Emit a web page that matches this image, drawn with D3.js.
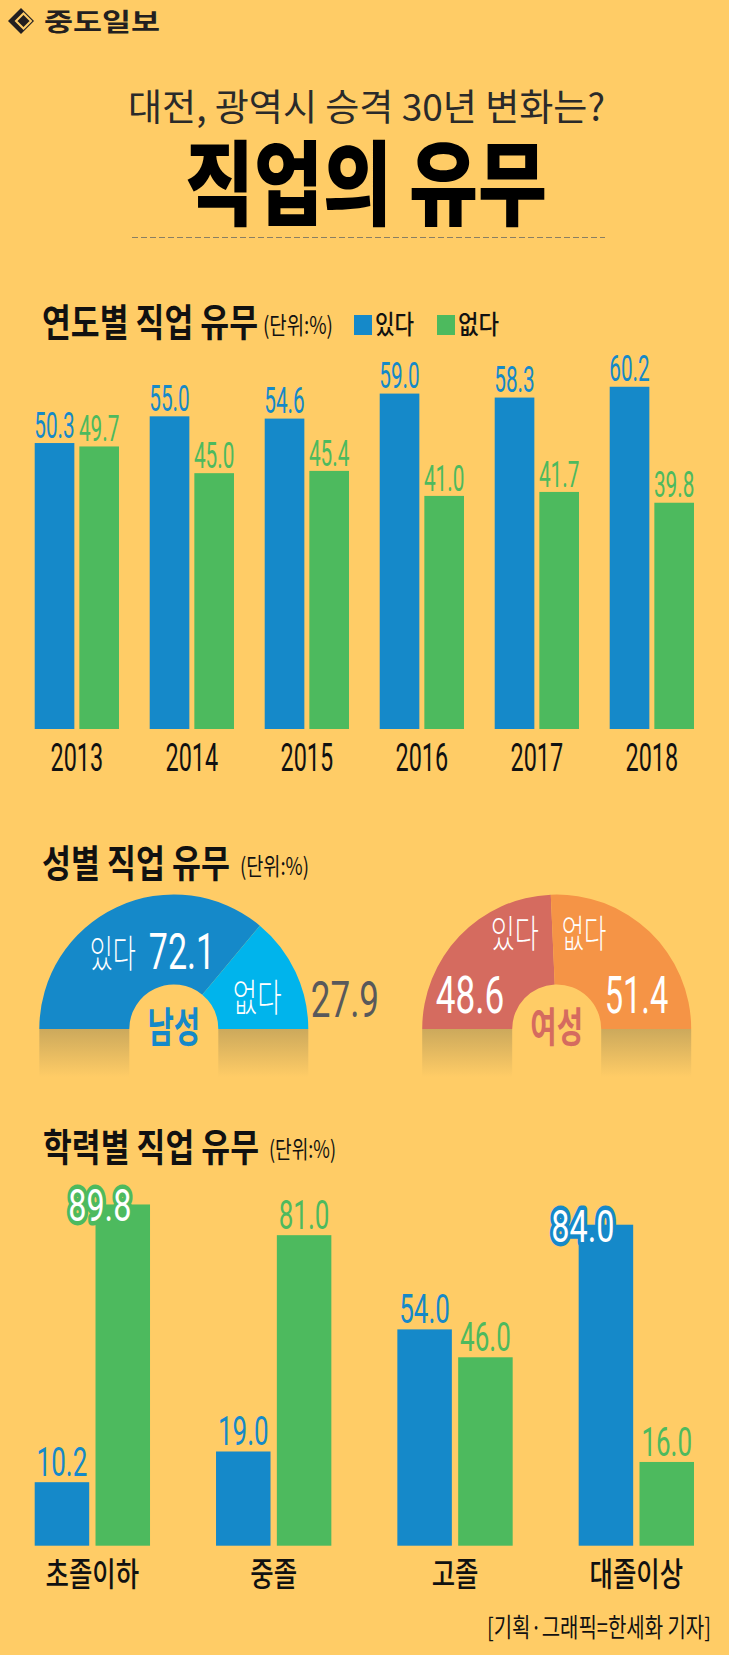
<!DOCTYPE html>
<html><head><meta charset="utf-8">
<script src="https://cdn.jsdelivr.net/npm/d3@7"></script>
<style>html,body{margin:0;padding:0;background:#ffcc66;} svg{display:block;}</style>
</head><body>
<svg id="c" width="729" height="1655"></svg>
<script>
// ---------- data ----------
const years = ['2013','2014','2015','2016','2017','2018'];
const seriesNames = ['있다','없다'];
const yearYes = [50.3, 55.0, 54.6, 59.0, 58.3, 60.2];
const yearNo  = [49.7, 45.0, 45.4, 41.0, 41.7, 39.8];
const genders = ['남성','여성'];
const maleValues = [72.1, 27.9];
const femaleValues = [48.6, 51.4];
const eduLevels = ['초졸이하','중졸','고졸','대졸이상'];
const eduYes = [10.2, 19.0, 54.0, 84.0];
const eduNo  = [89.8, 81.0, 46.0, 16.0];

// ---------- style ----------
const W = 729, H = 1655;
const BG = '#ffcc66', BLUE = '#1589c9', GREEN = '#4dba5e', LBLUE = '#00b4ec',
      ROSE = '#d56b5f', ORANGE = '#f59446', GRAY = '#58595b', INK = '#111';
const KR = "'Noto Sans CJK KR','Noto Sans',sans-serif";
const NUM = "Roboto,'Noto Sans',sans-serif";
const fmt = d3.format('.1f');

const svg = d3.select('#c');
svg.append('rect').attr('width', W).attr('height', H).attr('fill', BG);

function txt(p, s, o) {
  const t = p.append('text').text(s)
    .attr('font-family', o.family || KR)
    .attr('font-size', o.size)
    .attr('font-weight', o.weight || 400)
    .attr('fill', o.fill || INK)
    .attr('text-anchor', o.anchor || 'start');
  if (o.len) {
    t.attr('x', o.x).attr('y', o.y).attr('textLength', o.len).attr('lengthAdjust', 'spacingAndGlyphs');
  } else {
    t.attr('transform', `translate(${o.x},${o.y}) scale(${o.sx || 1},1)`);
  }
  if (o.stroke) {
    t.attr('stroke', o.stroke).attr('stroke-width', o.sw).attr('stroke-linejoin', 'round')
     .attr('paint-order', 'stroke');
  }
  return t;
}

// ---------- header ----------
const logo = svg.append('g');
logo.append('path').attr('d', 'M8,21 L21,8 L34,21 L21,34 Z').attr('fill', '#231f20');
logo.append('path').attr('d', 'M16,21 L23.5,13.5 L31,21 L23.5,28.5 Z').attr('fill', 'none')
  .attr('stroke', BG).attr('stroke-width', 2);
logo.append('path').attr('d', 'M19.5,21 L23.5,17 L27.5,21 L23.5,25 Z').attr('fill', '#231f20');
txt(svg, '중도일보', {x: 44, y: 31, size: 25, weight: 700, len: 116, fill: '#231f20'});

txt(svg, '대전, 광역시 승격 30년 변화는?', {x: 128, y: 121, size: 37, weight: 400, len: 477, fill: '#2a2a2a'});
txt(svg, '직업의 유무', {x: 185, y: 218, size: 92, weight: 900, len: 362, fill: '#000'});
svg.append('line').attr('x1', 132).attr('x2', 605).attr('y1', 237.5).attr('y2', 237.5)
  .attr('stroke', '#8a7f63').attr('stroke-width', 1.2).attr('stroke-dasharray', '6,3');

// ---------- chart 1: yearly ----------
txt(svg, '연도별 직업 유무', {x: 42, y: 336, size: 38, weight: 700, len: 216});
txt(svg, '(단위:%)', {x: 263, y: 334, size: 24, weight: 400, len: 70});

const color = d3.scaleOrdinal().domain(seriesNames).range([BLUE, GREEN]);
const legend = svg.append('g');
seriesNames.forEach((s, i) => {
  const lx = 354 + i * 83;
  legend.append('rect').attr('x', lx).attr('y', 315).attr('width', 18).attr('height', 20).attr('fill', color(s));
  txt(legend, s, {x: lx + 21, y: 334, size: 26, weight: 500, len: 39 + i * 2});
});

const x0 = d3.scaleBand().domain(years).range([19.35, 709.35]).paddingInner(0.267).paddingOuter(0.1335);
const x1 = d3.scaleBand().domain(seriesNames).range([0, x0.bandwidth()]).paddingInner(0.112);
const y1 = d3.scaleLinear().domain([0, 100]).range([729, 160.5]);
const yearRows = years.map((k, i) => ({key: k, vals: [yearYes[i], yearNo[i]]}));

const g1 = svg.append('g');
const grp1 = g1.selectAll('g.grp').data(yearRows).join('g').attr('class', 'grp')
  .attr('transform', d => `translate(${x0(d.key)},0)`);
const cells1 = d => seriesNames.map((s, j) => ({s, v: d.vals[j]}));
grp1.selectAll('rect').data(cells1).join('rect')
  .attr('x', d => x1(d.s)).attr('width', x1.bandwidth())
  .attr('y', d => y1(d.v)).attr('height', d => y1(0) - y1(d.v))
  .attr('fill', d => color(d.s));
grp1.each(function(d) {
  const gg = d3.select(this);
  cells1(d).forEach(c => {
    txt(gg, fmt(c.v), {x: x1(c.s) + x1.bandwidth() / 2, y: y1(c.v) - 5.3, size: 37, sx: 0.56,
      family: NUM, fill: color(c.s), anchor: 'middle'});
  });
});

const ax1 = svg.append('g').attr('transform', 'translate(0,729)')
  .call(d3.axisBottom(x0).tickSize(0).tickPadding(0));
ax1.select('.domain').remove();
ax1.selectAll('text').attr('dy', null).attr('y', 41.7)
  .attr('font-family', NUM).attr('font-size', 39).attr('fill', INK)
  .attr('transform', 'scale(0.6,1)');

// ---------- chart 2: gender ----------
txt(svg, '성별 직업 유무', {x: 42, y: 877, size: 38, weight: 700, len: 188});
txt(svg, '(단위:%)', {x: 240, y: 875, size: 24, weight: 400, len: 69});

const defs = svg.append('defs');
const grad = defs.append('linearGradient').attr('id', 'sh').attr('x1', 0).attr('x2', 0).attr('y1', 0).attr('y2', 1);
grad.append('stop').attr('offset', 0).attr('stop-color', '#cca95c');
grad.append('stop').attr('offset', 1).attr('stop-color', BG);

const R = 134.5, r = 44.5, CY = 1029;
const pie = d3.pie().sort(null).startAngle(-Math.PI / 2).endAngle(Math.PI / 2);
const arc = d3.arc().innerRadius(r).outerRadius(R);
const genderSets = [
  {name: genders[0], cx: 173.8, vals: maleValues, cols: [BLUE, LBLUE], lab: BLUE},
  {name: genders[1], cx: 556.7, vals: femaleValues, cols: [ROSE, ORANGE], lab: ROSE}
];
genderSets.forEach(gs => {
  const g = svg.append('g');
  g.append('rect').attr('x', gs.cx - R).attr('y', CY).attr('width', 2 * R).attr('height', 48).attr('fill', 'url(#sh)');
  g.append('rect').attr('x', gs.cx - r).attr('y', CY - 1).attr('width', 2 * r).attr('height', 50).attr('fill', BG);
  g.append('g').attr('transform', `translate(${gs.cx},${CY})`)
    .selectAll('path').data(pie(gs.vals)).join('path')
    .attr('d', arc).attr('fill', (d, i) => gs.cols[i]);
  txt(g, gs.name, {x: gs.cx, y: 1042, size: 41, weight: 700, sx: 0.7, anchor: 'middle', fill: gs.lab});
});
// male labels
{
  const cx = genderSets[0].cx;
  txt(svg, seriesNames[0], {x: cx - 84, y: 967, size: 38, weight: 300, sx: 0.66, fill: '#fff'});
  txt(svg, fmt(maleValues[0]), {x: cx - 25, y: 969, size: 50, sx: 0.68, family: NUM, fill: '#fff'});
  txt(svg, seriesNames[1], {x: cx + 59, y: 1010.5, size: 38, weight: 300, sx: 0.7, fill: '#fff'});
  txt(svg, fmt(maleValues[1]), {x: cx + 137, y: 1016.7, size: 50, sx: 0.7, family: NUM, fill: GRAY});
}
// female labels
{
  const cx = genderSets[1].cx;
  txt(svg, seriesNames[0], {x: cx - 66, y: 947, size: 38, weight: 300, sx: 0.69, fill: '#fff'});
  txt(svg, seriesNames[1], {x: cx + 5, y: 947, size: 38, weight: 300, sx: 0.64, fill: '#fff'});
  txt(svg, fmt(femaleValues[0]), {x: cx - 121, y: 1013.3, size: 51, sx: 0.69, family: NUM, fill: '#fff'});
  txt(svg, fmt(femaleValues[1]), {x: cx + 48, y: 1013.3, size: 51, sx: 0.64, family: NUM, fill: '#fff'});
}

// ---------- chart 3: education ----------
txt(svg, '학력별 직업 유무', {x: 43, y: 1161, size: 38, weight: 700, len: 216});
txt(svg, '(단위:%)', {x: 269, y: 1158, size: 24, weight: 400, len: 67});

const xe = d3.scaleBand().domain(eduLevels).range([1.7, 727]).paddingInner(0.364).paddingOuter(0.182);
const xe1 = d3.scaleBand().domain(seriesNames).range([0, xe.bandwidth()]).paddingInner(0.104);
const ye = d3.scaleLinear().domain([-8, 100]).range([1545.7, 1545.7 - 108 * 3.489]);
const eduRows = eduLevels.map((k, i) => ({key: k, vals: [eduYes[i], eduNo[i]]}));
const maxYes = d3.max(eduYes), maxNo = d3.max(eduNo);

const g3 = svg.append('g');
const grp3 = g3.selectAll('g.grp').data(eduRows).join('g').attr('class', 'grp')
  .attr('transform', d => `translate(${xe(d.key)},0)`);
grp3.selectAll('rect').data(cells1).join('rect')
  .attr('x', d => xe1(d.s)).attr('width', xe1.bandwidth())
  .attr('y', d => ye(d.v)).attr('height', d => ye.range()[0] - ye(d.v))
  .attr('fill', d => color(d.s));
grp3.each(function(d) {
  const gg = d3.select(this);
  cells1(d).forEach((c, j) => {
    const cx = xe1(c.s) + xe1.bandwidth() / 2;
    const isMax = (j === 0 && c.v === maxYes) || (j === 1 && c.v === maxNo);
    if (isMax) {
      txt(gg, fmt(c.v), {x: cx - 23, y: ye(c.v) + 17, size: 45, sx: 0.72, weight: 400,
        family: NUM, fill: '#fff', anchor: 'middle', stroke: color(c.s), sw: 9});
    } else {
      txt(gg, fmt(c.v), {x: cx, y: ye(c.v) - 6.3, size: 40, sx: 0.65,
        family: NUM, fill: color(c.s), anchor: 'middle'});
    }
  });
});

const ax3 = svg.append('g').attr('transform', 'translate(0,1545.7)')
  .call(d3.axisBottom(xe).tickSize(0).tickPadding(0));
ax3.select('.domain').remove();
ax3.selectAll('text').attr('dy', null).attr('y', 40.5)
  .attr('font-family', KR).attr('font-size', 33).attr('font-weight', 500).attr('fill', INK)
  .attr('transform', 'scale(0.77,1)');

// footnote
txt(svg, '[기획·그래픽=한세화 기자]', {x: 487, y: 1637, size: 26, weight: 400, len: 224});
</script>
</body></html>
